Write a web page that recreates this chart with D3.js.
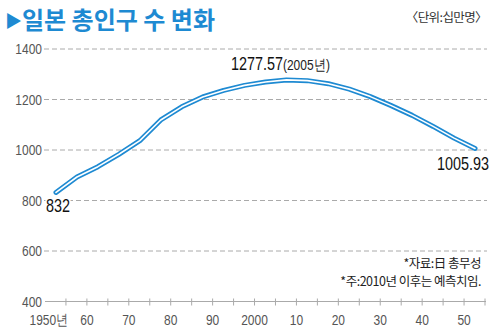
<!DOCTYPE html>
<html><head><meta charset="utf-8">
<script src="https://cdn.jsdelivr.net/npm/d3@7"></script>
<style>
body{margin:0;background:#fff;}
svg{display:block;}
.num{font-family:"Liberation Sans",Arial,sans-serif;}
.kr{font-family:"Noto Sans CJK KR","Noto Sans",sans-serif;}
</style>
</head><body>
<svg id="c" width="500" height="332"></svg>
<script>
const years = [1950,1955,1960,1965,1970,1975,1980,1985,1990,1995,2000,2005,2010,2015,2020,2025,2030,2035,2040,2045,2050];
const population = [832,893,934,983,1037,1119,1171,1210,1236,1256,1269,1277.57,1274.7,1262.7,1241.1,1211.4,1175.8,1137.1,1093.4,1047.0,1005.93];
const yTicks = [400,600,800,1000,1200,1400];
const xLabelYears = [1950,1960,1970,1980,1990,2000,2010,2020,2030,2040,2050];
const xLabels = ["1950년","60","70","80","90","2000","10","20","30","40","50"];
const minorTicks = d3.range(1955,2056,5);
const title = "일본 총인구 수 변화";
const unit = "〈단위:십만명〉";
const notes = ["*자료:日 총무성","*주:2010년 이후는 예측치임."];

const blue = "#1e8ad2";
const svg = d3.select("#c");
const x = d3.scaleLinear().domain([1950,2055]).range([45,485]);
const y = d3.scaleLinear().domain([400,1400]).range([301.5,49]);
const lineShift = 11;
const squeeze = 0.8;

function numText(px, py, anchor, size, fill){
  return svg.append("text").attr("class","num")
    .attr("transform",`translate(${px},${py}) scale(${squeeze},1)`)
    .attr("text-anchor",anchor).attr("font-size",size).attr("fill",fill);
}

// title
const t = svg.append("text").attr("class","kr").attr("x",5).attr("y",29)
  .attr("fill",blue).attr("font-size",24).attr("font-weight",700);
t.append("tspan").attr("font-size",17).attr("dy",-2).text("▶");
t.append("tspan").attr("dy",2).text(title);
svg.append("text").attr("class","kr").attr("x",487).attr("y",22).attr("text-anchor","end")
  .attr("font-size",12.5).attr("letter-spacing",-0.6).attr("fill","#333").text(unit);

// gridlines
yTicks.filter(v=>v>400).forEach(v=>{
  svg.append("line").attr("x1",44).attr("x2",487).attr("y1",y(v)).attr("y2",y(v))
    .attr("stroke","#aaa").attr("stroke-width",1).attr("stroke-dasharray","5,3");
});
// x axis
svg.append("line").attr("x1",45).attr("x2",486).attr("y1",y(400)).attr("y2",y(400))
  .attr("stroke","#aaa").attr("stroke-width",1);
svg.selectAll(".mt").data(minorTicks).enter().append("line")
  .attr("x1",d=>x(d)).attr("x2",d=>x(d)).attr("y1",y(400)-3).attr("y2",y(400)+4)
  .attr("stroke","#aaa").attr("stroke-width",1);

// y labels
yTicks.forEach(v=>{
  numText(42, y(v)+5, "end", 15, "#555").text(v);
});
// x labels
xLabelYears.forEach((yr,i)=>{
  numText(x(yr)+(i===0?4:0), 325, "middle", 15, "#555").text(xLabels[i]);
});

// notes
notes.forEach((n,i)=>{
  svg.append("text").attr("class","kr").attr("x",481).attr("y",268+i*18).attr("text-anchor","end")
    .attr("font-size",12.5).attr("letter-spacing",-0.5).attr("fill","#222").text(n);
});

// line
const data = years.map((yr,i)=>({year:yr,value:population[i]}));
const line = d3.line().x(d=>x(d.year)+lineShift).y(d=>y(d.value));
svg.append("path").datum(data).attr("d",line).attr("fill","none")
  .attr("stroke",blue).attr("stroke-width",5).attr("stroke-linejoin","round").attr("stroke-linecap","round");
svg.append("path").datum(data).attr("d",line).attr("fill","none")
  .attr("stroke","#fff").attr("stroke-width",1.6).attr("stroke-linejoin","round").attr("stroke-linecap","round");

// value labels
const first = data[0], peak = data[years.indexOf(2005)], last = data[data.length-1];
numText(x(first.year)+lineShift-10, y(first.value)+20, "start", 18, "#111")
  .attr("stroke","#fff").attr("stroke-width",4).attr("paint-order","stroke").text(first.value);
const pl = numText(x(peak.year)+lineShift-6, y(peak.value)-10, "middle", 18, "#111");
pl.append("tspan").text(peak.value.toFixed(2));
pl.append("tspan").attr("font-size",15).attr("fill","#222").text("("+peak.year+"년)");
numText(x(last.year)+lineShift+14, y(last.value)+21, "end", 18, "#111").text(last.value.toFixed(2));
</script>
</body></html>
